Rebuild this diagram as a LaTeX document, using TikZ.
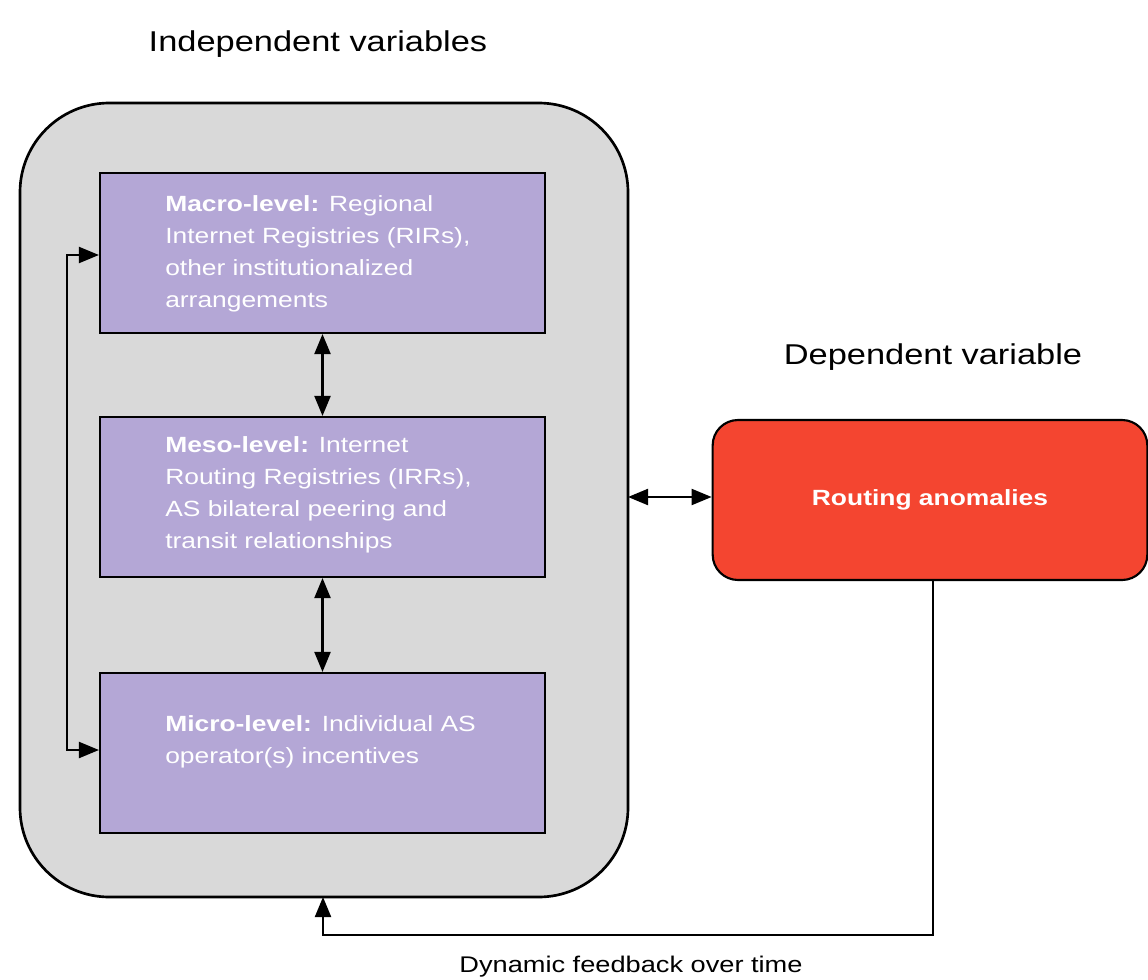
\documentclass[tikz,border=0pt]{standalone}
\usepackage{fontspec}
\setmainfont{Liberation Sans}[FakeStretch=1.2]
\usetikzlibrary{arrows.meta}
\definecolor{contgray}{HTML}{D9D9D9}
\definecolor{levelpurple}{HTML}{B4A7D6}
\definecolor{anomred}{HTML}{F44530}
\tikzset{tipA/.tip={Triangle[length=15pt,width=12pt]}}
\begin{document}
\begin{tikzpicture}[x=0.75pt,y=-0.75pt,
  every node/.style={font=\fontsize{16.5}{24}\selectfont},
  container/.style={draw=black, line width=2pt, fill=contgray, rounded corners=67pt},
  levelbox/.style={draw=black, line width=1.6pt, fill=levelpurple, minimum width=333.75pt, minimum height=120pt, inner sep=0pt},
  leveltext/.style={text=white, align=left, anchor=north west, inner sep=0pt},
  redbox/.style={draw=black, line width=1.6pt, fill=anomred, rounded corners=19pt, minimum width=326pt, minimum height=120pt, text=white, font=\bfseries\fontsize{16.5}{20}\selectfont},
  title/.style={font=\fontsize{21.5}{26}\selectfont, inner sep=0pt},
  conn/.style={line width=1.6pt, tipA-tipA},
  oneway/.style={line width=1.6pt, -tipA}
]
\useasboundingbox (0,0) rectangle (1148,980);
% container
\draw[container] (20,103) rectangle (628,897);
\coordinate (contR) at (628,497);
\coordinate (contB) at (323,897);
% level boxes
\node[levelbox] (macro) at (322.5,253) {};
\node[levelbox] (meso) at (322.5,497) {};
\node[levelbox] (micro) at (322.5,753) {};
\node[leveltext] (macrot) at (165,195) {\textbf{Macro-level:} Regional\\Internet Registries (RIRs),\\other institutionalized\\arrangements};
\node[leveltext] (mesot) at (165,436) {\textbf{Meso-level:} Internet\\Routing Registries (IRRs),\\AS bilateral peering and\\transit relationships};
\node[leveltext] (microt) at (165,715) {\textbf{Micro-level:} Individual AS\\operator(s) incentives};
% red box
\node[redbox] (anom) at (930,500) {Routing anomalies};
% titles
\node[title] (indep) at (318,44) {Independent variables};
\node[title] (dep) at (933,357) {Dependent variable};
\node[inner sep=0pt, font=\fontsize{17}{20}\selectfont] (fb) at (631,967) {Dynamic feedback over time};
% connectors
\draw[conn] (macro.south) -- (meso.north);
\draw[conn] (meso.south) -- (micro.north);
\draw[conn] (macro.west |- 0,255) -- (67,255) -- (67,750) -- (micro.west |- 0,750);
\draw[conn] (contR) -- (anom.west |- contR);
\draw[oneway] (anom.south -| 933,0) -- (933,935) -- (323,935) -- (contB);
\end{tikzpicture}
\end{document}
